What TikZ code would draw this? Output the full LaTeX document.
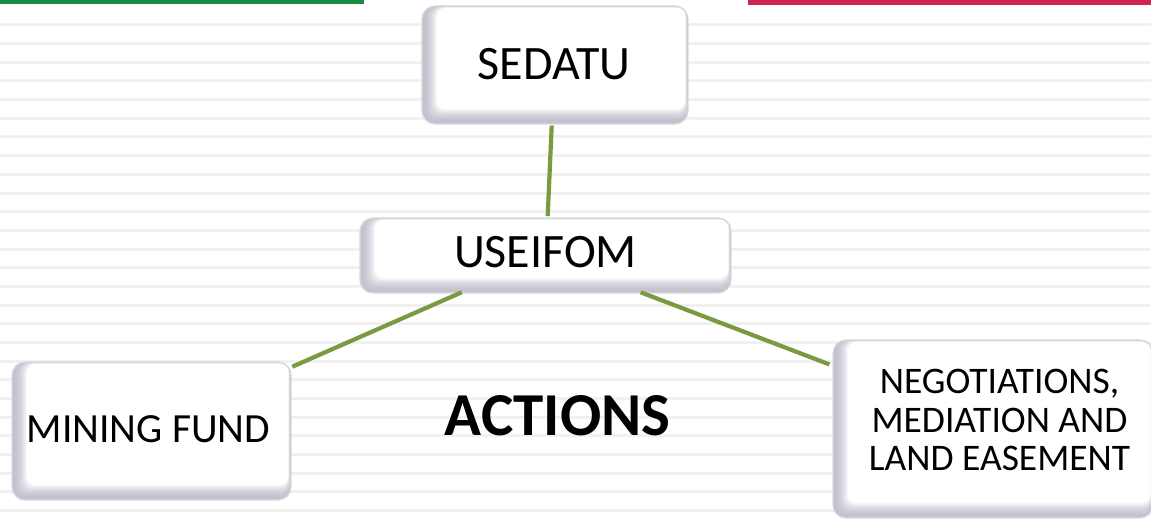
\documentclass[tikz,border=0pt]{standalone}
\usepackage{fontspec}
\setmainfont{Carlito}
\definecolor{linegreen}{HTML}{799A40}
\definecolor{bev}{HTML}{C2C2CF}
\definecolor{stripe}{HTML}{F1F1F1}
\definecolor{topgreen}{HTML}{178A44}
\definecolor{topred}{HTML}{CF2553}
\definecolor{boxborder}{HTML}{DADADF}
\tikzset{
  boxst/.style={draw=boxborder, line width=1.2pt, rounded corners=13pt, fill=white, inner sep=0pt,
    path picture={
      \foreach \i [evaluate=\i as \p using {max(0,100-\i*\i*0.45)}] in {0,...,16} {
        \fill[bev!\p!white, rounded corners=9pt]
          ([xshift=\i pt, yshift=\i pt]path picture bounding box.south west) rectangle
          ([xshift={-0.18*\i pt}, yshift={-0.12*\i pt}]path picture bounding box.north east);
      }
    }},
  conn/.style={draw=linegreen, line width=4.2pt},
  lbl/.style={inner sep=0pt, text=black}
}
\begin{document}
\begin{tikzpicture}[x=1pt,y=1pt]
\useasboundingbox (0,0) rectangle (1151,-519);
\fill[white] (0,0) rectangle (1151,-519);
% background stripes
\foreach \k in {1,...,27} {
  \draw[stripe, line width=3pt] (0,{-(6.3+18.67*\k)}) -- (1151,{-(6.3+18.67*\k)});
}
% top bars
\fill[topgreen] (0,0) rectangle (364,-4.5);
\fill[topred] (748,0) rectangle (1151,-5);
% boxes
\node[boxst, minimum width=266pt, minimum height=118pt] (sedatu) at (555,-65) {};
\node[boxst, minimum width=371pt, minimum height=75pt] (useifom) at (545.5,-255.5) {};
\node[boxst, minimum width=279pt, minimum height=138pt] (mining) at (151.5,-431) {};
\node[boxst, minimum width=320pt, minimum height=178pt] (neg) at (993,-429) {};
% texts
\node[lbl, anchor=base, font=\fontsize{48}{50}\selectfont] (sedatuT) at (554,-80) {SEDATU};
\node[lbl, anchor=base, font=\fontsize{48}{50}\selectfont] (useifomT) at (545.5,-267) {USEIFOM};
\node[lbl, anchor=base, font=\fontsize{41.5}{43}\selectfont] (miningT) at (148.5,-442) {MINING FUND};
\node[lbl, align=center, font=\fontsize{37.5}{38.5}\selectfont] (negT) at (999.5,-420)
  {NEGOTIATIONS,\\MEDIATION AND\\LAND EASEMENT};
\node[lbl, anchor=base, font=\fontsize{61}{63}\selectfont\bfseries] (actions) at (557.5,-435) {ACTIONS};
% connectors
\draw[conn] ([xshift=-3.3pt,yshift=-1pt]sedatu.south) -- ([xshift=2.2pt,yshift=1.3pt]useifom.north);
\draw[conn] ([xshift=-83.8pt,yshift=1.3pt]useifom.south) -- ([xshift=0.7pt,yshift=-5.3pt]mining.north east);
\draw[conn] ([xshift=95.2pt,yshift=1.3pt]useifom.south) -- ([xshift=-3pt,yshift=-25pt]neg.north west);
\end{tikzpicture}
\end{document}
